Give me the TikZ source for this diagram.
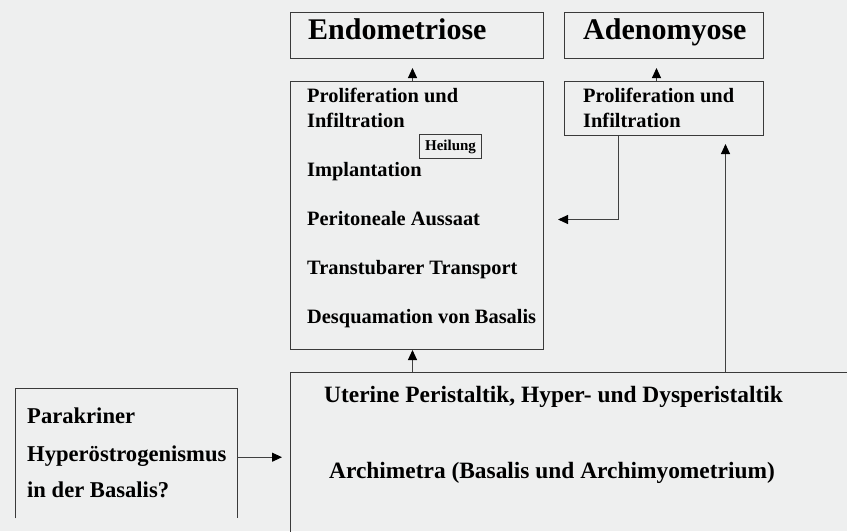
\documentclass[tikz,border=0pt]{standalone}
\usepackage{fontspec}
\setmainfont{Liberation Serif}
\usepackage{tikz}
\usetikzlibrary{positioning,arrows.meta,calc}
\definecolor{paneBg}{HTML}{EEEFEF}
\definecolor{frameGray}{HTML}{3A3A3A}

\begin{document}
\begin{tikzpicture}[
  x=1pt, y=-1pt,
  box/.style={draw=frameGray, line width=1pt, inner sep=0pt, anchor=north west},
  frame/.style={draw=frameGray, line width=1pt},
  title/.style={anchor=base west, inner sep=0pt,
                font=\fontsize{30}{34}\selectfont\bfseries},
  txt/.style={anchor=base west, inner sep=0pt,
              font=\fontsize{20.4}{24}\selectfont\bfseries},
  bigTxt/.style={anchor=base west, inner sep=0pt,
                 font=\fontsize{23.4}{27}\selectfont\bfseries},
  sideTxt/.style={anchor=base west, inner sep=0pt,
                  font=\fontsize{22.6}{26}\selectfont\bfseries},
  arr/.style={draw=black!75, line width=1pt,
              -{Triangle[length=10pt,width=9pt,color=black]}}
]
  \path[use as bounding box, fill=paneBg] (0,0) rectangle (847,531);

  % Top boxes
  \node[box, minimum width=253pt, minimum height=46pt] (endo) at (290,12) {};
  \node[title] (endoT) at (308,39) {Endometriose};
  \node[box, minimum width=199pt, minimum height=46pt] (adeno) at (564,12) {};
  \node[title] (adenoT) at (583,39) {Adenomyose};

  % Endometriose pathway
  \node[box, minimum width=253pt, minimum height=268pt] (proc) at (290,81) {};
  \node[txt] (procA) at (307,102) {Proliferation und};
  \node[txt] (procB) at (307,127) {Infiltration};
  \node[box, minimum width=62pt, minimum height=24pt,
        font=\fontsize{15}{17}\selectfont\bfseries] (heal) at (419,134) {Heilung};
  \node[txt] (procC) at (307,176) {Implantation};
  \node[txt] (procD) at (307,225) {Peritoneale Aussaat};
  \node[txt] (procE) at (307,274) {Transtubarer Transport};
  \node[txt] (procF) at (307,323) {Desquamation von Basalis};

  % Adenomyose pathway
  \node[box, minimum width=199pt, minimum height=54pt] (adproc) at (564,81) {};
  \node[txt] (adprocA) at (583,102) {Proliferation und};
  \node[txt] (adprocB) at (583,127) {Infiltration};

  % Archimetra
  \node[box, minimum width=590pt, minimum height=190pt] (base) at (290,372) {};
  \node[bigTxt] (baseA) at (324,402) {Uterine Peristaltik, Hyper- und Dysperistaltik};
  \node[bigTxt] (baseB) at (329,478) {Archimetra (Basalis und Archimyometrium)};

  % Basalis box, open at the bottom
  \node[inner sep=0pt, minimum width=222pt, minimum height=130pt,
        anchor=north west] (para) at (15,388) {};
  \draw[frame] (para.south west) |- (para.north east) -- (para.south east);
  \node[sideTxt] (paraA) at (27,423) {Parakriner};
  \node[sideTxt] (paraB) at (27,461) {Hyperöstrogenismus};
  \node[sideTxt] (paraC) at (27,497) {in der Basalis?};

  % Connectors
  \coordinate (adin) at ([xshift=61.5pt]adproc.south);
  \draw[arr, shorten >=9pt] ([xshift=-4.5pt]proc.north) -- ([xshift=-4.5pt]endo.south);
  \draw[arr, shorten >=9pt] ([xshift=-7.5pt]adproc.north) -- ([xshift=-7.5pt]adeno.south);
  \draw[arr, shorten >=14pt] ([xshift=-45.5pt]adproc.south) |- ([yshift=-4pt]proc.east);
  \draw[arr, shorten >=8pt] (adin |- base.north) -- (adin);
  \draw[arr] ([xshift=-4.5pt]proc.south |- base.north) -- ([xshift=-4.5pt]proc.south);
  \draw[arr, shorten >=8pt] ([yshift=-4pt]para.east) -- ([yshift=-4pt]para.east -| base.west);
\end{tikzpicture}
\end{document}
